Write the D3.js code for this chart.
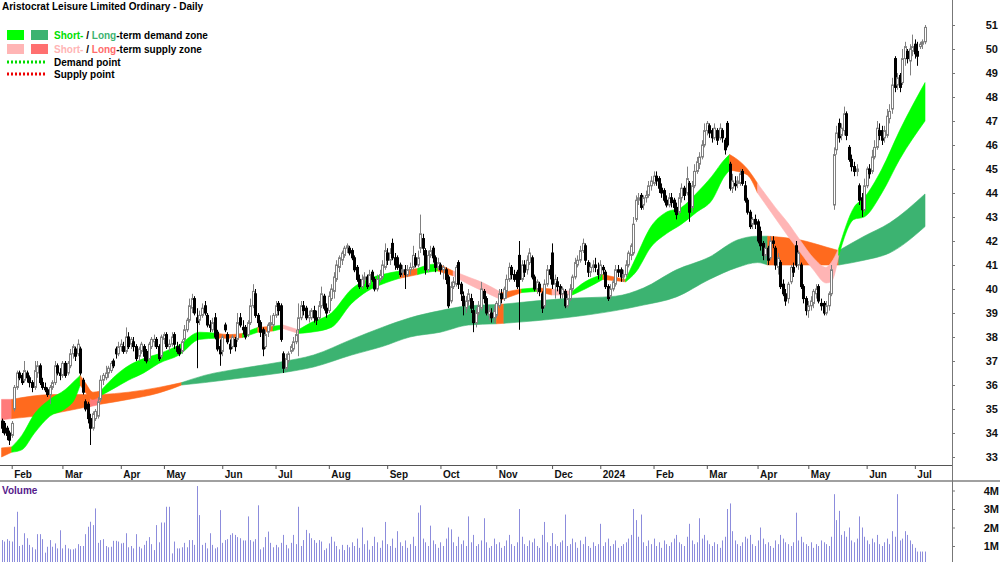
<!DOCTYPE html>
<html>
<head>
<meta charset="utf-8">
<script src="https://cdn.jsdelivr.net/npm/d3@7"></script>
<style>
  body { margin: 0; background: #fff; }
  svg { display: block; font-family: "Liberation Sans", Arial, sans-serif; }
</style>
</head>
<body>
<div id="chart"></div>
<script>
// ---- data (Aristocrat Leisure, daily, late Jan 2023 - early Jul 2024) ----
const opens = [
  34.5,34.4,34.2,34.0,33.9,35.0,35.9,36.5,36.4,36.2, 36.5,36.3,36.1,35.9,36.5,36.8,36.1,35.9,35.8,35.6,
  35.9,36.1,36.8,36.5,36.4,36.9,36.5,36.8,37.3,37.5, 37.3,37.5,36.2,35.3,35.2,34.6,34.2,34.6,34.7,35.4,
  36.2,36.3,36.5,36.6,37.0,37.5,37.3,37.6,37.6,37.4, 38.0,37.7,37.8,37.6,37.2,37.4,37.6,37.4,37.1,37.6,
  37.8,37.9,37.6,37.2,37.9,38.1,37.6,37.7,38.1,37.6, 37.5,37.4,37.9,38.3,38.7,39.2,39.6,38.8,38.7,38.9,
  39.3,38.9,38.5,38.3,38.8,38.2,37.6,37.4,38.5,38.1, 37.7,37.6,37.9,37.9,38.8,38.4,38.4,38.1,38.6,39.3,
  39.8,38.9,38.6,38.3,37.6,38.2,38.5,38.5,38.9,39.4, 39.3,37.3,36.7,37.0,37.4,37.5,37.8,38.3,38.8,39.3,
  39.2,38.8,38.8,39.1,38.8,38.8,39.3,39.7,39.2,39.1, 39.6,39.9,40.4,40.9,41.2,41.4,41.7,41.7,41.6,41.3,
  40.9,40.4,40.1,40.4,40.5,40.2,40.7,40.4,40.0,40.4, 40.5,40.9,41.5,41.2,41.9,41.3,41.3,41.0,40.7,40.8,
  40.6,40.8,40.9,41.3,41.0,41.7,42.1,41.6,40.8,41.4, 41.7,41.3,40.9,41.0,40.8,40.8,40.5,39.5,40.1,40.2,
  41.1,40.2,39.7,39.2,39.5,39.6,39.1,38.6,39.0,39.2, 39.9,39.6,38.9,39.0,38.8,38.9,39.3,39.8,39.6,39.9,
  40.4,40.9,40.6,40.7,41.4,40.4,41.0,40.8,41.1,41.3, 40.5,40.0,40.2,39.8,39.3,40.2,40.8,41.5,40.2,40.3,
  40.1,39.8,39.9,39.3,39.6,40.0,40.5,41.0,41.2,41.6, 41.8,41.1,40.7,40.9,41.0,40.8,40.6,40.9,40.7,40.1,
  39.7,40.0,40.2,40.8,40.8,40.5,40.6,41.0,41.4,41.5, 42.9,43.7,43.9,43.5,43.8,43.9,44.3,44.4,44.7,44.6,
  44.2,44.1,43.7,43.5,43.8,43.7,43.4,43.2,43.8,44.2, 44.0,44.4,43.4,44.3,44.9,45.2,45.5,46.0,46.6,46.8,
  46.6,46.3,46.6,46.3,46.6,46.2,46.9,45.2,44.2,44.4, 44.4,44.4,44.9,44.3,43.7,43.2,42.7,42.9,42.8,42.4,
  41.9,41.4,41.7,41.3,42.0,41.7,40.9,41.1,40.2,39.8, 39.6,40.3,40.9,41.8,41.0,41.0,40.1,39.6,39.1,39.3,
  39.4,39.8,40.1,39.4,39.4,39.0,39.3,39.8,43.5,45.8, 46.9,46.4,46.6,47.3,45.9,45.4,45.1,44.9,44.3,43.8,
  43.3,44.3,45.0,44.9,45.5,45.9,46.6,46.6,46.3,46.4, 47.1,47.5,49.6,48.5,48.9,48.6,49.6,49.9,49.5,49.9,
  50.2,49.9,50.1,50.2,50.3
];
const highs = [
  34.6,34.5,34.3,34.1,34.5,36.0,36.6,36.6,36.5,37.0, 36.6,36.4,36.2,37.0,37.0,36.9,36.3,36.1,35.9,36.0,
  36.2,37.0,36.9,36.7,37.0,37.0,37.0,37.5,37.7,37.6, 37.9,37.6,36.3,35.4,35.3,34.8,34.9,35.0,35.5,36.4,
  36.5,36.8,36.8,37.0,37.1,37.6,37.8,37.9,37.8,38.4, 38.2,38.0,38.0,37.7,37.6,37.8,37.7,37.5,37.8,38.0,
  38.1,38.0,37.7,38.1,38.2,38.2,37.9,38.2,38.2,37.8, 37.7,37.9,38.5,38.8,39.6,39.8,39.7,39.2,39.1,39.4,
  39.5,39.0,38.7,38.8,39.0,38.3,37.9,38.1,38.6,38.2, 37.9,38.1,38.0,39.0,39.0,38.7,38.5,38.7,39.6,40.2,
  40.0,39.0,38.7,38.4,38.3,38.6,38.9,39.0,39.5,39.5, 39.4,37.4,37.3,37.4,37.7,38.0,38.3,39.4,39.5,39.5,
  39.3,39.1,39.2,39.3,39.1,39.5,40.1,39.8,39.4,39.9, 40.2,40.7,41.2,41.4,41.6,41.8,41.9,41.8,41.7,41.4,
  41.0,40.6,40.6,40.7,40.6,40.8,40.8,40.5,40.6,40.8, 41.2,41.9,41.7,41.7,42.1,41.5,41.4,41.1,41.0,41.0,
  41.0,41.1,41.8,41.5,41.6,43.1,42.3,41.7,41.6,41.8, 41.8,41.4,41.3,41.1,41.0,40.9,40.6,40.3,40.5,41.0,
  41.2,40.3,39.9,39.7,40.0,39.8,39.5,39.2,39.5,40.3, 40.0,39.7,39.3,39.2,39.3,39.5,40.0,40.0,40.1,40.6,
  41.1,41.0,40.8,40.8,42.0,41.2,41.2,41.4,41.7,41.4, 40.6,40.4,40.3,39.9,40.4,41.0,41.0,41.9,40.6,40.5,
  40.2,40.1,40.0,39.8,40.2,40.6,41.3,41.4,41.8,42.1, 41.9,41.2,41.1,41.2,41.3,41.1,41.2,41.0,40.8,40.2,
  40.2,40.4,41.0,41.0,40.9,40.8,41.2,41.6,41.9,43.0, 43.9,44.0,44.0,43.9,44.1,44.5,44.7,44.9,44.9,44.7,
  44.4,44.2,43.9,44.0,44.0,43.8,43.6,44.0,44.4,44.3, 45.1,44.5,44.5,45.2,45.5,45.7,46.2,46.9,47.0,46.9,
  46.7,46.9,46.7,46.9,46.7,46.3,47.0,45.3,44.8,44.7, 44.7,45.0,45.0,44.5,43.8,43.3,43.0,43.1,42.9,42.6,
  42.0,41.9,41.8,42.2,42.2,41.8,41.5,41.2,40.4,40.0, 40.3,41.0,41.1,42.0,41.6,41.1,40.2,39.7,39.5,39.7,
  40.0,40.2,40.2,39.6,39.5,39.5,39.9,41.0,45.9,46.8, 47.1,46.9,47.6,47.4,46.0,45.6,45.3,45.2,44.4,44.0,
  44.6,45.1,45.2,45.8,46.2,47.0,46.9,46.8,46.8,47.5, 47.7,48.8,49.7,49.0,49.0,50.0,50.3,50.0,50.2,50.6,
  50.4,50.3,50.3,50.4,51.0
];
const lows = [
  34.0,33.9,33.7,33.5,33.8,34.9,35.8,36.2,36.0,36.1, 36.1,35.9,35.7,35.8,36.3,36.0,35.8,35.7,35.5,35.2,
  35.8,36.0,36.4,36.2,36.3,36.3,36.4,36.7,37.1,37.0, 37.2,36.4,35.6,34.9,34.4,33.5,34.1,34.5,34.6,35.3,
  36.0,36.2,36.3,36.5,36.7,37.1,37.2,37.4,37.3,37.3, 37.5,37.5,37.4,37.0,37.0,37.3,37.0,36.9,37.0,37.5,
  37.6,37.5,37.0,37.1,37.7,37.5,37.4,37.6,37.5,37.3, 37.2,37.3,37.8,38.2,38.6,39.0,38.9,36.7,38.5,38.8,
  38.9,38.4,38.2,38.2,37.9,37.4,36.8,37.2,38.2,37.7, 37.3,37.5,37.4,37.8,38.4,38.1,37.9,38.0,38.5,39.2,
  38.8,38.4,38.0,37.2,37.5,38.0,38.3,38.4,38.8,38.9, 37.8,36.5,36.6,36.9,37.3,37.4,37.7,37.2,38.7,38.9,
  38.7,38.6,38.7,38.6,38.5,38.7,39.2,39.1,38.8,39.0, 39.5,39.6,40.3,40.7,41.0,41.3,41.5,41.4,41.2,40.7,
  40.3,40.0,40.0,40.2,40.0,40.1,40.3,39.9,39.9,40.3, 40.4,40.8,41.0,41.0,41.2,40.8,40.8,40.5,40.5,40.0,
  40.5,40.6,40.8,40.9,40.9,41.5,41.4,40.6,40.7,41.3, 41.1,40.7,40.8,40.6,40.4,40.2,39.2,39.4,40.0,40.1,
  40.0,39.5,38.9,39.0,39.3,39.0,38.2,38.4,38.9,39.1, 39.4,38.9,38.7,38.6,38.6,38.8,39.2,39.4,39.5,39.6,
  40.3,40.4,40.3,40.0,38.3,40.3,40.5,40.6,41.0,40.4, 39.9,39.8,39.7,39.0,39.2,40.1,40.4,40.0,39.6,39.9,
  39.6,39.6,39.2,39.2,39.5,39.9,40.4,40.9,41.1,41.5, 41.0,40.5,40.5,40.7,40.7,40.4,40.5,40.6,40.0,39.5,
  39.6,39.9,40.1,40.5,40.3,40.3,40.5,40.9,41.2,41.4, 42.8,43.5,43.3,43.3,43.6,43.8,44.1,44.3,44.3,44.0,
  43.8,43.6,43.4,43.4,43.4,43.2,42.9,43.1,43.6,43.7, 43.9,42.8,43.2,44.2,44.8,45.0,45.4,45.9,46.4,46.3,
  46.1,46.2,46.0,46.2,46.1,45.6,45.9,44.1,44.0,44.1, 44.2,44.3,44.3,43.6,43.1,42.5,42.5,42.5,41.9,41.6,
  41.2,41.2,41.0,41.2,41.7,40.8,40.6,40.0,39.7,39.3, 39.4,40.2,40.5,40.9,40.8,40.0,39.4,38.9,38.8,39.1,
  39.2,39.6,39.4,39.1,38.9,38.9,39.1,39.7,43.3,45.6, 46.1,46.2,46.4,46.2,45.3,44.9,44.7,44.7,43.5,43.0,
  43.2,44.2,44.6,44.8,45.4,45.8,46.2,46.0,46.1,46.3, 46.9,47.3,48.2,48.3,48.2,48.5,49.3,49.4,48.9,49.7,
  49.6,49.3,50.0,50.0,50.2
];
const closes = [
  34.2,34.0,33.9,33.7,34.4,35.9,36.5,36.3,36.1,36.6, 36.3,36.1,35.9,36.6,36.8,36.1,35.9,35.8,35.6,35.9,
  36.1,36.8,36.5,36.4,36.9,36.4,36.9,37.3,37.6,37.2, 37.7,36.5,35.7,35.0,34.6,34.2,34.8,34.9,35.3,36.2,
  36.4,36.5,36.7,36.9,36.8,37.3,37.6,37.7,37.4,38.0, 37.6,37.9,37.6,37.1,37.5,37.7,37.2,37.0,37.7,37.9,
  37.9,37.6,37.1,38.0,38.1,37.6,37.7,38.0,37.7,37.4, 37.3,37.8,38.3,38.7,39.3,39.6,39.0,38.6,38.9,39.2,
  39.0,38.5,38.4,38.6,38.0,37.5,37.3,38.0,38.3,37.8, 37.5,38.0,37.6,38.6,38.5,38.3,38.0,38.6,39.3,39.9,
  38.9,38.6,38.2,37.5,38.1,38.5,38.6,38.9,39.3,39.1, 37.9,36.7,37.1,37.3,37.6,37.8,38.1,38.8,39.3,39.1,
  38.8,38.9,39.1,38.8,38.7,39.3,39.8,39.2,39.0,39.7, 40.0,40.5,41.0,41.3,41.5,41.7,41.8,41.5,41.3,40.8,
  40.4,40.1,40.4,40.5,40.1,40.6,40.4,40.0,40.4,40.6, 41.0,41.6,41.2,41.5,41.3,41.0,40.9,40.6,40.8,40.6,
  40.8,40.9,41.4,41.0,41.3,42.3,41.7,40.8,41.4,41.6, 41.3,40.9,41.1,40.8,40.9,40.4,39.3,40.1,40.3,40.9,
  40.2,39.8,39.3,39.5,39.8,39.2,38.6,39.0,39.3,40.0, 39.6,39.0,39.1,38.8,39.1,39.4,39.8,39.6,40.0,40.4,
  40.9,40.6,40.4,40.1,40.4,41.0,40.7,41.2,41.5,40.5, 40.0,40.3,39.9,39.2,40.2,40.8,40.6,40.2,40.4,40.1,
  39.8,40.0,39.3,39.6,40.0,40.5,41.1,41.2,41.6,41.9, 41.2,40.7,40.9,41.0,40.9,40.6,41.0,40.8,40.1,39.6,
  40.0,40.3,40.8,40.7,40.5,40.6,41.0,41.5,41.8,42.7, 43.7,43.8,43.4,43.8,43.9,44.3,44.5,44.7,44.5,44.2,
  44.0,43.7,43.5,43.8,43.6,43.4,43.1,43.8,44.2,43.9, 44.6,43.2,44.3,44.9,45.3,45.5,46.0,46.6,46.9,46.5,
  46.3,46.7,46.2,46.7,46.3,45.8,46.0,44.2,44.5,44.3, 44.5,44.8,44.4,43.7,43.2,42.6,42.9,42.7,42.0,41.8,
  41.4,41.7,41.2,42.0,41.9,41.0,41.3,40.1,39.8,39.5, 40.2,40.9,40.7,41.0,41.5,40.1,39.6,39.1,39.3,39.5,
  39.9,40.0,39.5,39.3,39.0,39.3,39.8,40.8,45.6,46.5, 46.3,46.7,47.3,46.4,45.4,45.1,44.9,45.0,43.7,43.3,
  44.3,45.0,44.8,45.5,45.9,46.7,46.4,46.2,46.6,47.2, 47.4,48.5,48.4,48.8,48.4,49.6,50.1,49.6,50.0,50.1,
  49.8,49.7,50.2,50.3,50.9
];
// volume in millions of shares
const volumes = [
  1.32,1.24,1.37,1.28,1.24,2.04,2.85,1.0,1.06,1.69, 1.42,1.06,0.93,0.82,1.64,1.64,1.37,0.64,0.96,1.32,
  0.96,1.14,0.87,1.85,0.87,1.06,0.87,0.82,0.82,0.87, 1.10,1.0,1.0,1.64,2.04,2.31,2.13,3.03,1.17,1.32,
  1.37,1.0,0.93,0.96,1.28,1.28,1.24,1.14,1.17,1.69, 0.93,1.0,0.87,1.64,0.96,0.87,1.06,1.28,1.48,1.10,
  0.78,2.13,1.2,2.27,2.27,3.12,3.12,0.6,1.24,0.87, 0.87,0.93,1.17,0.93,1.32,1.32,1.06,4.24,2.67,1.06,
  1.17,0.87,1.69,1.06,0.87,0.93,2.94,1.17,1.32,1.37, 1.6,1.69,1.6,1.48,1.42,1.3,1.3,2.6,1.32,1.24,
  1.37,3.2,0.82,0.93,1.48,1.78,1.17,0.93,1.06,0.93, 1.17,1.6,1.06,0.87,1.17,1.6,1.1,3.12,1.0,1.32,
  1.87,1.69,1.42,1.32,1.17,1.32,1.24,0.78,0.87,1.14, 1.5,1.24,1.0,0.82,1.06,0.78,1.06,0.93,1.2,1.0,
  1.4,0.9,2.0,1.1,1.3,0.8,1.0,1.5,1.2,0.9, 1.3,2.3,1.1,1.0,1.4,0.9,1.8,1.2,1.0,1.3,
  0.9,1.1,1.5,1.0,2.8,3.2,1.4,1.2,1.0,2.1, 1.3,1.1,0.9,1.2,1.0,1.4,2.0,1.9,1.2,1.0,
  1.5,1.1,1.3,1.0,2.6,1.2,1.6,1.0,1.1,1.3, 2.5,1.2,0.9,1.0,1.4,1.1,1.2,0.9,1.0,1.3,
  1.6,1.1,1.0,1.2,3.0,1.5,1.1,1.0,1.3,1.2, 1.4,1.0,0.9,1.6,2.3,1.2,1.0,1.7,1.1,1.0,
  1.2,1.3,2.7,1.0,1.1,1.4,1.2,0.9,1.3,1.1, 1.5,1.0,0.9,1.2,1.0,1.1,2.2,1.0,1.2,1.4,
  1.0,1.1,1.3,0.9,1.0,1.1,1.2,1.4,1.6,3.0, 2.4,1.5,2.7,1.2,1.0,1.3,1.1,1.4,1.0,1.2,
  0.9,1.3,1.1,1.0,1.2,1.4,1.6,1.2,1.1,1.0, 1.5,2.2,1.3,1.1,1.2,2.5,1.4,1.6,1.3,1.1,
  1.0,1.2,1.1,0.9,1.3,1.5,3.0,3.3,1.8,1.3, 1.1,1.0,1.2,1.5,1.4,1.6,1.1,1.0,1.3,2.0,
  1.4,1.1,1.2,1.0,0.9,1.3,1.1,1.6,1.4,1.2, 1.1,1.0,1.2,2.8,1.3,1.5,1.2,1.1,1.0,1.2,
  0.9,1.1,1.0,1.3,1.2,1.1,1.0,1.5,3.8,2.4, 2.9,1.6,1.8,1.5,2.0,1.3,1.2,1.4,2.6,2.0,
  1.5,1.3,1.1,1.4,1.2,1.6,1.1,1.0,1.2,1.4, 1.1,1.8,1.5,3.8,1.3,1.4,1.8,1.6,1.3,1.1,
  0.9,0.7,0.7,0.7,0.7
];

// x axis: trading-day index of the first session of each month
const monthIdx = [4, 24, 47, 64, 87, 108, 129, 152, 173, 195, 217, 236, 257, 278, 298, 318, 341, 360];
const monthLabels = ["Feb","Mar","Apr","May","Jun","Jul","Aug","Sep","Oct","Nov","Dec","2024","Feb","Mar","Apr","May","Jun","Jul"];
const priceTicks = [33,34,35,36,37,38,39,40,41,42,43,44,45,46,47,48,49,50,51];
const volumeTicks = [1,2,3,4];

// short-term zone band: sample day, upper / lower edge, zone type of the stretch that starts there
const shortIdx = [0,4,8,13,19,25,29,31,33,36, 39,45,50,56,62,70,78,85,90,95, 101,107,111,117,122,130,138,144,150,157,
  164,168,172,178,184,190,197,205,211,217, 225,230,237,246,250,256,262,268,274,280, 285,287,290,294,298,305,310,315,320,325,
  327,330,336,340,347,354,364];
const shortTop = [33.38,33.42,33.9,34.8,35.4,35.8,36.2,36.4,36.1,35.7, 35.75,36.4,36.8,37.1,37.3,37.67,38.2,38.15,38.1,38.15,
  38.4,38.45,38.5,38.3,38.6,39.0,40.0,40.4,40.6,40.75, 40.85,41.0,41.05,40.75,40.5,40.25,39.85,40.0,40.05,40.0,
  39.9,40.3,40.6,40.4,41.3,42.6,43.2,43.4,44.0,44.7, 45.4,45.6,45.4,45.0,44.4,43.4,42.75,42.0,41.3,40.9,
  41.1,41.7,43.4,43.8,45.0,46.6,48.6];
const shortBot = [33.0,33.2,33.3,34.0,34.7,35.0,35.45,36.0,35.7,35.4, 35.55,35.9,36.2,36.5,36.9,37.25,37.9,37.95,37.95,37.98,
  38.2,38.25,38.35,38.15,38.2,38.4,39.4,39.9,40.2,40.45, 40.6,40.7,40.75,40.55,40.2,39.9,39.55,39.85,39.9,39.75,
  39.75,40.0,40.4,40.3,40.7,41.75,42.3,42.7,43.2,43.7, 44.7,44.95,44.9,44.75,44.0,42.95,42.2,41.5,40.8,40.25,
  40.3,41.4,42.9,43.0,44.0,45.4,47.0];
const shortZone = ("oggggggooo" + "gggggggoog" + "ogpggggggo" + "ggopppogop" + "ggoggggggg" + "gooopppppp" + "pgggggg").split("");

// long-term zone band
const longIdx = [0,4,20,32,35,39,50,62,71,80, 95,110,123,138,150,161,173,184,195,198, 222,242,253,266,279,290,298,302,315,325, 330,340,350,364];
const longTop = [35.4,35.4,35.6,35.6,35.6,35.6,35.7,35.9,36.1,36.4, 36.7,36.96,37.25,37.9,38.4,38.8,39.1,39.3,39.35,39.37,
  39.6,39.7,40.04,40.8,41.33,42.04,42.2,42.2,42.04,41.75, 41.6,42.2,42.75,43.96];
const longBot = [34.55,34.6,34.8,35.05,35.1,35.2,35.4,35.67,36.0,36.1, 36.3,36.5,36.75,37.25,37.6,38.0,38.2,38.5,38.55,38.57,
  38.8,39.1,39.33,39.67,40.4,40.9,41.1,41.0,41.0,41.0, 41.0,41.2,41.5,42.6];
const longZone = ("sooosooo" + "dddddddddd" + "o" + "dddddddd" + "ooo" + "dddd").split("");

const zoneColors = { g: "#00ff00", d: "#3cb371", o: "#ff6a1e", p: "#ffb5b5", s: "#ff7b7b" };

// ---- layout ----
const W = 1000, H = 562;
const axisX = 952;
const plotBottom = 465;

const x = d3.scaleLinear().domain([0, closes.length - 1]).range([1.55, 925]);
const y = d3.scaleLinear().domain([33, 51]).range([457, 25]);
const yv = d3.scaleLinear().domain([0, 4]).range([564.5, 490.5]);

const svg = d3.select("#chart").append("svg")
  .attr("width", W)
  .attr("height", H);

svg.append("clipPath").attr("id", "main-clip")
  .append("rect").attr("x", 0).attr("y", 0).attr("width", axisX).attr("height", plotBottom);
const plot = svg.append("g").attr("clip-path", "url(#main-clip)");

// zone bands, one path per run of the same zone type
function drawBand(idx, top, bot, zone) {
  const area = d3.area()
    .x(j => x(idx[j]))
    .y0(j => y(bot[j]))
    .y1(j => y(top[j]))
    .curve(d3.curveMonotoneX);
  let start = 0;
  for (let k = 1; k < idx.length; k++) {
    if (k === idx.length - 1 || zone[k] !== zone[start]) {
      const col = zoneColors[zone[start]];
      plot.append("path")
        .datum(d3.range(start, k + 1))
        .attr("fill", col)
        .attr("stroke", col)
        .attr("stroke-width", 0.6)
        .attr("d", area);
      start = k;
    }
  }
}
drawBand(longIdx, longTop, longBot, longZone);
drawBand(shortIdx, shortTop, shortBot, shortZone);

// candles
const days = d3.range(closes.length);
const cx = i => Math.round(x(i));
const up = i => closes[i] >= opens[i];

plot.selectAll("line.wick")
  .data(days)
  .join("line")
  .attr("class", "wick")
  .attr("x1", i => cx(i) + 0.5)
  .attr("x2", i => cx(i) + 0.5)
  .attr("y1", i => y(highs[i]))
  .attr("y2", i => y(lows[i]))
  .attr("stroke", i => up(i) ? "#808080" : "#000")
  .attr("stroke-width", 1);

plot.selectAll("rect.body")
  .data(days)
  .join("rect")
  .attr("class", "body")
  .attr("x", i => cx(i) - 0.5)
  .attr("width", 2)
  .attr("y", i => y(Math.max(opens[i], closes[i])))
  .attr("height", i => Math.max(1, y(Math.min(opens[i], closes[i])) - y(Math.max(opens[i], closes[i]))))
  .attr("fill", i => up(i) ? "#fff" : "#000")
  .attr("stroke", i => up(i) ? "#808080" : "#000")
  .attr("stroke-width", 1);

// volume bars
svg.selectAll("line.vol")
  .data(days)
  .join("line")
  .attr("class", "vol")
  .attr("x1", i => cx(i) + 0.5)
  .attr("x2", i => cx(i) + 0.5)
  .attr("y1", H)
  .attr("y2", i => yv(volumes[i]))
  .attr("stroke", "#8c8cdc")
  .attr("stroke-width", 1);

// frame lines
svg.append("line")
  .attr("x1", 0).attr("x2", axisX).attr("y1", plotBottom + 0.5).attr("y2", plotBottom + 0.5)
  .attr("stroke", "#555");
svg.append("line")
  .attr("x1", 0).attr("x2", W).attr("y1", 481).attr("y2", 481)
  .attr("stroke", "#a0a0a0").attr("stroke-width", 2);
svg.append("line")
  .attr("x1", axisX + 0.5).attr("x2", axisX + 0.5).attr("y1", 0).attr("y2", H)
  .attr("stroke", "#777");

// price axis
const priceAxis = svg.append("g")
  .attr("transform", `translate(${axisX},0)`)
  .call(d3.axisRight(y).tickValues(priceTicks).tickSize(3).tickFormat(d3.format("d")));
priceAxis.select(".domain").remove();
priceAxis.selectAll("line").attr("stroke", "#777");
priceAxis.selectAll("text")
  .attr("x", 46)
  .attr("text-anchor", "end")
  .attr("fill", "#111")
  .style("font-size", "11px")
  .style("font-weight", "bold")
  .style("font-family", "'Liberation Sans', Arial, sans-serif");

// volume axis
const volAxis = svg.append("g")
  .attr("transform", `translate(${axisX},0)`)
  .call(d3.axisRight(yv).tickValues(volumeTicks).tickSize(3).tickFormat(d => d + "M"));
volAxis.select(".domain").remove();
volAxis.selectAll("line").attr("stroke", "#777");
volAxis.selectAll("text")
  .attr("x", 47)
  .attr("text-anchor", "end")
  .attr("fill", "#111")
  .style("font-size", "11px")
  .style("font-weight", "bold")
  .style("font-family", "'Liberation Sans', Arial, sans-serif");

// month axis
const monthAxis = svg.append("g")
  .attr("transform", `translate(0,${plotBottom})`)
  .call(d3.axisBottom(x).tickValues(monthIdx).tickSize(4).tickFormat((d, i) => monthLabels[i]));
monthAxis.select(".domain").remove();
monthAxis.selectAll("line").attr("stroke", "#555");
monthAxis.selectAll("text")
  .attr("x", 2)
  .attr("y", 13)
  .attr("dy", 0)
  .attr("text-anchor", "start")
  .attr("fill", "#111")
  .style("font-size", "10px")
  .style("font-weight", "bold")
  .style("font-family", "'Liberation Sans', Arial, sans-serif");

svg.append("text")
  .attr("x", 2).attr("y", 494)
  .attr("fill", "#551a8b")
  .style("font-size", "10px")
  .style("font-weight", "bold")
  .text("Volume");

// title and legend
svg.append("text")
  .attr("x", 2).attr("y", 10)
  .attr("fill", "#000")
  .style("font-size", "10px")
  .style("font-weight", "bold")
  .text("Aristocrat Leisure Limited Ordinary - Daily");

const legend = svg.append("g").style("font-size", "10px").style("font-weight", "bold");
legend.append("rect").attr("x", 7).attr("y", 30).attr("width", 17).attr("height", 10).attr("fill", "#00ff00");
legend.append("rect").attr("x", 31).attr("y", 30).attr("width", 17).attr("height", 10).attr("fill", "#3cb371");
legend.append("rect").attr("x", 7).attr("y", 44).attr("width", 17).attr("height", 10).attr("fill", "#ffb5b5");
legend.append("rect").attr("x", 31).attr("y", 44).attr("width", 17).attr("height", 10).attr("fill", "#ff7070");

const row1 = legend.append("text").attr("x", 54).attr("y", 39);
row1.append("tspan").attr("fill", "#00e000").text("Short-");
row1.append("tspan").attr("fill", "#000").text(" / ");
row1.append("tspan").attr("fill", "#3cb371").text("Long");
row1.append("tspan").attr("fill", "#000").text("-term demand zone");

const row2 = legend.append("text").attr("x", 54).attr("y", 52.5);
row2.append("tspan").attr("fill", "#ffb5b5").text("Short-");
row2.append("tspan").attr("fill", "#000").text(" / ");
row2.append("tspan").attr("fill", "#ff6b6b").text("Long");
row2.append("tspan").attr("fill", "#000").text("-term supply zone");

legend.append("line").attr("x1", 7).attr("x2", 46).attr("y1", 62).attr("y2", 62)
  .attr("stroke", "#00dd00").attr("stroke-width", 3).attr("stroke-dasharray", "2,2");
legend.append("text").attr("x", 54).attr("y", 65.5).attr("fill", "#000").text("Demand point");
legend.append("line").attr("x1", 7).attr("x2", 46).attr("y1", 74).attr("y2", 74)
  .attr("stroke", "#ee0000").attr("stroke-width", 3).attr("stroke-dasharray", "2,2");
legend.append("text").attr("x", 54).attr("y", 78).attr("fill", "#000").text("Supply point");
</script>
</body>
</html>
